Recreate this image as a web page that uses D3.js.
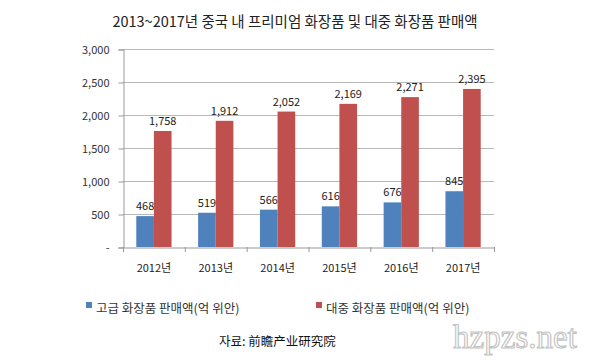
<!DOCTYPE html>
<html>
<head>
<meta charset="utf-8">
<script src="https://cdn.jsdelivr.net/npm/d3@7"></script>
<style>
body { margin: 0; background: #fff; }
text { font-family: "Noto Sans CJK KR", "Noto Sans", sans-serif; }
</style>
</head>
<body>
<script>
var w = 605;
var h = 360;

// data
var years = ['2012년', '2013년', '2014년', '2015년', '2016년', '2017년'];
var premium = [468, 519, 566, 616, 676, 845];
var mass = [1758, 1912, 2052, 2169, 2271, 2395];
var seriesNames = ['고급 화장품 판매액(억 위안)', '대중 화장품 판매액(억 위안)'];
var yTicks = [0, 500, 1000, 1500, 2000, 2500, 3000];
var colors = ['#4f81bd', '#c0504d'];

var svg = d3.select('body')
            .append('svg')
            .attr('width', w)
            .attr('height', h);

var x0 = 123, x1 = 494, yTop = 49, yBot = 247;

var x = d3.scaleBand()
          .domain(years)
          .range([x0, x1])
          .paddingInner(0.43)
          .paddingOuter(0.215);

var xs = d3.scaleBand()
           .domain([0, 1])
           .range([0, x.bandwidth()]);

var y = d3.scaleLinear()
          .domain([0, 3000])
          .range([yBot, yTop]);

svg.append('text')
   .attr('x', 295)
   .attr('y', 27)
   .attr('text-anchor', 'middle')
   .attr('font-size', 14.5)
   .attr('fill', '#222')
   .text('2013~2017년 중국 내 프리미엄 화장품 및 대중 화장품 판매액');

// gridlines
svg.append('g')
   .selectAll('line')
   .data(yTicks.slice(1))
   .enter()
   .append('line')
   .attr('x1', x0)
   .attr('x2', x1)
   .attr('y1', function(d) { return y(d) + 0.5; })
   .attr('y2', function(d) { return y(d) + 0.5; })
   .attr('stroke', '#b8b8b8');

var yAxis = d3.axisLeft(y)
              .tickValues(yTicks)
              .tickSize(5)
              .tickPadding(9)
              .tickFormat(function(d) { return d === 0 ? '-' : d3.format(',')(d); });

svg.append('g')
   .attr('transform', 'translate(' + (x0 + 0.5) + ',0.5)')
   .call(yAxis)
   .call(function(g) {
       g.select('.domain').attr('stroke', '#999');
       g.selectAll('.tick line').attr('stroke', '#999');
       g.selectAll('.tick text').attr('font-size', 11).attr('fill', '#333');
   });

// bars
var groups = svg.append('g')
   .selectAll('g')
   .data(years)
   .enter()
   .append('g')
   .attr('transform', function(d) { return 'translate(' + x(d) + ',0)'; });

[premium, mass].forEach(function(vals, si) {
    groups.append('rect')
          .attr('x', xs(si))
          .attr('width', xs.bandwidth())
          .attr('y', function(d, i) { return y(vals[i]); })
          .attr('height', function(d, i) { return yBot - y(vals[i]); })
          .attr('fill', colors[si]);
    groups.append('text')
          .attr('x', xs(si) + xs.bandwidth() / 2)
          .attr('y', function(d, i) { return y(vals[i]) - 6; })
          .attr('text-anchor', 'middle')
          .attr('font-size', 11)
          .attr('fill', '#222')
          .text(function(d, i) { return d3.format(',')(vals[i]); });
});

// x axis
var xAxis = d3.axisBottom(x).tickSize(0).tickPadding(17);
var xg = svg.append('g')
   .attr('transform', 'translate(0,' + (yBot + 0.5) + ')')
   .call(xAxis);
xg.select('.domain').attr('stroke', '#999');
xg.selectAll('.tick text').attr('font-size', 11).attr('fill', '#222');

svg.append('g')
   .selectAll('line')
   .data(d3.range(years.length + 1))
   .enter()
   .append('line')
   .attr('x1', function(i) { return x0 + 0.5 + i * x.step(); })
   .attr('x2', function(i) { return x0 + 0.5 + i * x.step(); })
   .attr('y1', yBot)
   .attr('y2', yBot + 5)
   .attr('stroke', '#999');

// legend
var legX = [86, 316];
seriesNames.forEach(function(name, i) {
    svg.append('rect')
       .attr('x', legX[i])
       .attr('y', 302)
       .attr('width', 6)
       .attr('height', 6)
       .attr('fill', colors[i]);
    svg.append('text')
       .attr('x', legX[i] + 10)
       .attr('y', 313)
       .attr('font-size', 12.5)
       .attr('fill', '#333')
       .text(name);
});

svg.append('text')
   .attr('x', 219)
   .attr('y', 346)
   .attr('font-size', 12.5)
   .attr('fill', '#111')
   .text('자료: 前瞻产业研究院');

// watermark
svg.append('text')
   .attr('x', 515)
   .attr('y', 348)
   .attr('text-anchor', 'middle')
   .attr('font-size', 34)
   .style('font-family', '"Liberation Serif", serif')
   .attr('fill', '#fff')
   .attr('stroke', '#c4c4c4')
   .attr('stroke-width', 1.2)
   .attr('textLength', 124)
   .attr('lengthAdjust', 'spacingAndGlyphs')
   .text('hzpzs.net');
</script>
</body>
</html>
